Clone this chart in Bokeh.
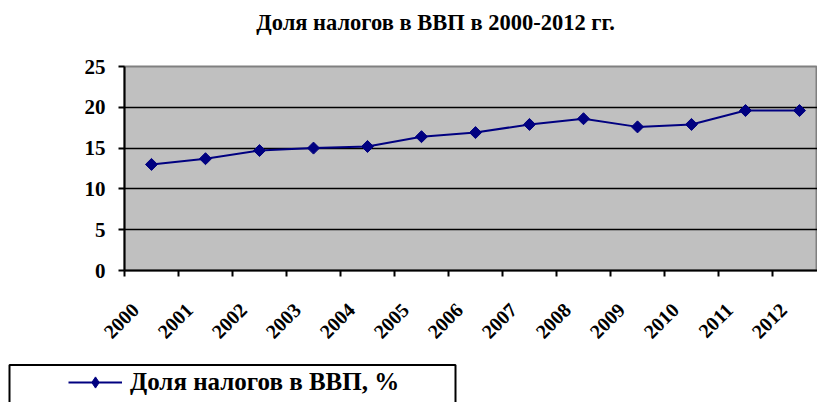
from math import pi
from bokeh.plotting import figure
from bokeh.layouts import column
from bokeh.models import FixedTicker, Legend, LegendItem, Range1d, Label
from bokeh.embed import file_html
from bokeh.resources import INLINE

# ---- data ----
years = ["2000", "2001", "2002", "2003", "2004", "2005", "2006",
         "2007", "2008", "2009", "2010", "2011", "2012"]
tax_share = [13.0, 13.7, 14.7, 15.0, 15.2, 16.4, 16.9, 17.9, 18.6, 17.6, 17.9, 19.6, 19.6]
y_ticks = [0, 5, 10, 15, 20, 25]
title_text = "Доля налогов в ВВП в 2000-2012 гг."
series_name = "Доля налогов в ВВП, %"

# ---- layout constants (pixels) ----
W = 817
H_TITLE, H_MAIN, H_LEG = 40, 315, 47
FRAME_L, FRAME_T, FRAME_B = 124, 66 - H_TITLE, 270 - H_TITLE
CAT_W = 54.0
LABEL_SHIFT = -0.3          # tick-label anchor shift, in category widths
x_start = -0.5
x_end = x_start + (W - FRAME_L) / CAT_W

FONT = "Liberation Serif"
NAVY = "#000080"


def strip(height):
    f = figure(width=W, height=height, output_backend="svg", toolbar_location=None,
               x_range=Range1d(0, W), y_range=Range1d(height, 0),
               x_axis_location=None, y_axis_location=None,
               min_border=0, min_border_left=0, min_border_right=0,
               min_border_top=0, min_border_bottom=0,
               outline_line_color=None, background_fill_color="white",
               border_fill_color="white")
    f.grid.visible = False
    f.frame_align = False
    return f


# ---- title strip ----
t = strip(H_TITLE)
t.add_layout(Label(x=435, y=22, text=title_text, text_align="center",
                   text_baseline="middle", text_font=FONT, text_font_style="bold",
                   text_font_size="22.5px", text_color="black"))

# ---- main chart ----
p = figure(width=W, height=H_MAIN, output_backend="svg", toolbar_location=None,
           x_range=Range1d(x_start, x_end), y_range=Range1d(0, 25),
           min_border_left=FRAME_L, min_border_right=0, min_border_top=FRAME_T,
           min_border_bottom=H_MAIN - FRAME_B, background_fill_color="#C0C0C0",
           border_fill_color="white")
p.frame_align = False

p.outline_line_color = "#808080"
p.outline_line_width = 2

xs = list(range(len(years)))
line_r = p.line(xs, tax_share, line_color=NAVY, line_width=2)
mark_r = p.scatter(xs, tax_share, marker="square", angle=pi / 4, size=8.5,
                   fill_color=NAVY, line_color=NAVY)

# grid
p.xgrid.visible = False
p.ygrid.ticker = FixedTicker(ticks=[t_ for t_ in y_ticks if 0 < t_ < 25])
p.ygrid.grid_line_color = "black"
p.ygrid.grid_line_width = 1.5

# x axis: boundary ticks (minor) and shifted label anchors (major, no tick mark)
label_pos = [i + LABEL_SHIFT for i in xs]
xa = p.xaxis[0]
xa.ticker = FixedTicker(ticks=label_pos,
                        minor_ticks=[i - 0.5 for i in range(len(years) + 1)])
xa.major_label_overrides = {pos: y for pos, y in zip(label_pos, years)}
xa.major_tick_in = 0
xa.major_tick_out = 0
xa.minor_tick_in = 0
xa.minor_tick_out = 6
xa.minor_tick_line_color = "black"
xa.minor_tick_line_width = 2
xa.axis_line_color = "black"
xa.axis_line_width = 2
xa.major_label_orientation = pi / 4
xa.major_label_text_font = FONT
xa.major_label_text_font_style = "bold"
xa.major_label_text_font_size = "20px"
xa.major_label_text_color = "black"
xa.major_label_standoff = 30

# y axis
ya = p.yaxis[0]
ya.ticker = FixedTicker(ticks=y_ticks)
ya.major_tick_in = 0
ya.major_tick_out = 6
ya.major_tick_line_color = "black"
ya.major_tick_line_width = 2
ya.minor_tick_out = 0
ya.minor_tick_in = 0
ya.axis_line_color = "black"
ya.axis_line_width = 2
ya.major_label_text_font = FONT
ya.major_label_text_font_style = "bold"
ya.major_label_text_font_size = "21px"
ya.major_label_text_color = "black"
ya.major_label_standoff = 13

# ---- legend strip below the chart ----
q = strip(H_LEG)
q.quad(left=[9], right=[455], top=[9.5], bottom=[H_LEG + 30],
       fill_alpha=0, line_color="black", line_width=2)

# legend sample renderers (one point placed off-canvas so only the legend shows it)
leg_line = q.line([-1000], [-1000], line_color=NAVY, line_width=2)
leg_mark = q.scatter([-1000], [-1000], marker="diamond", size=12,
                     fill_color=NAVY, line_color=NAVY)

legend = Legend(items=[LegendItem(label=series_name, renderers=[leg_line, leg_mark])],
                location=(60, -2), padding=8, margin=0,
                glyph_width=54, glyph_height=28, label_height=28,
                label_standoff=8, border_line_alpha=0, background_fill_alpha=0,
                label_text_font=FONT, label_text_font_style="bold",
                label_text_font_size="25px", label_text_color="black",
                label_text_baseline="middle")
q.add_layout(legend, "center")

layout = column(t, p, q, spacing=0)
open("out.html", "w").write(file_html(layout, INLINE))
